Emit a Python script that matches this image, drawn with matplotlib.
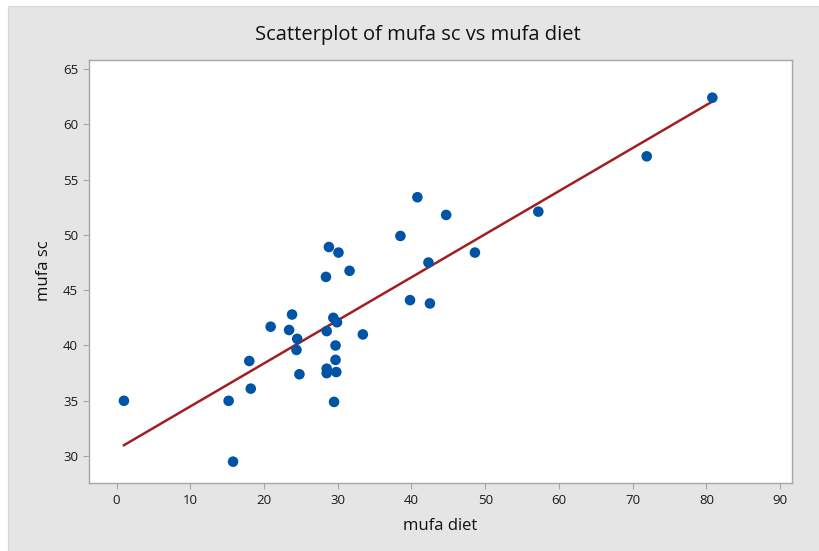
# Scatterplot of mufa sc vs mufa diet, with fitted line

import numpy as np
import matplotlib
matplotlib.use('Agg')
import matplotlib.pyplot as plt
from matplotlib.patches import Rectangle

plt.rcParams['font.family'] = ['Open Sans', 'DejaVu Sans']

# data
mufa_diet = [1.0, 15.2, 15.8, 18.2, 18.0, 20.9, 23.8, 23.4, 24.5, 24.4,
             24.8, 28.4, 28.8, 30.1, 31.6, 39.8, 42.5, 28.5, 29.4, 29.9,
             33.4, 29.7, 29.7, 28.5, 28.5, 29.8, 29.5, 80.8, 71.9, 57.2,
             40.8, 44.7, 38.5, 42.3, 48.6]
mufa_sc = [35.0, 35.0, 29.5, 36.1, 38.6, 41.7, 42.8, 41.4, 40.6, 39.6,
           37.4, 46.2, 48.9, 48.4, 46.75, 44.1, 43.8, 41.3, 42.5, 42.1,
           41.0, 40.0, 38.7, 37.9, 37.5, 37.6, 34.9, 62.4, 57.1, 52.1,
           53.4, 51.8, 49.9, 47.5, 48.4]

x_ticks = [0, 10, 20, 30, 40, 50, 60, 70, 80, 90]
y_ticks = [30, 35, 40, 45, 50, 55, 60, 65]

bg = '#e5e5e5'
edge = '#a6a6a6'

fig = plt.figure(figsize=(8.19, 5.51), dpi=100)
fig.patch.set_facecolor('white')
# gray panel with a thin white margin on the left and top
fig.patches.append(Rectangle((8 / 819, 0), 1, 1 - 6 / 551, transform=fig.transFigure,
                             facecolor=bg, edgecolor='#d6d6d6', linewidth=0.8, zorder=-10))

ax = fig.add_axes([0.109, 0.124, 0.858, 0.768])
ax.set_facecolor('white')

# least squares line
x = np.array(mufa_diet)
y = np.array(mufa_sc)
b, a = np.polyfit(x, y, 1)
xs = np.array([x.min(), x.max()])
ax.plot(xs, a + b * xs, color='#a31f1f', linewidth=1.8, zorder=2)

ax.scatter(x, y, s=58, color='#0054a6', edgecolors='none', zorder=3)

ax.set_xlim(-3.7, 91.6)
ax.set_ylim(27.6, 65.85)
ax.set_xticks(x_ticks)
ax.set_yticks(y_ticks)

for s in ax.spines.values():
    s.set_color(edge)
    s.set_linewidth(1.0)
ax.tick_params(direction='out', length=4, width=0.8, color=edge,
               labelsize=9.5, labelcolor='#1a1a1a', pad=4)

ax.set_xlabel('mufa diet', fontsize=12, color='#111111', labelpad=8)
ax.set_ylabel('mufa sc', fontsize=12, color='#111111', labelpad=8)
fig.suptitle('Scatterplot of mufa sc vs mufa diet', fontsize=14.5, color='#111111',
             x=0.51, y=0.955)

fig.savefig('out.png', dpi=100)
